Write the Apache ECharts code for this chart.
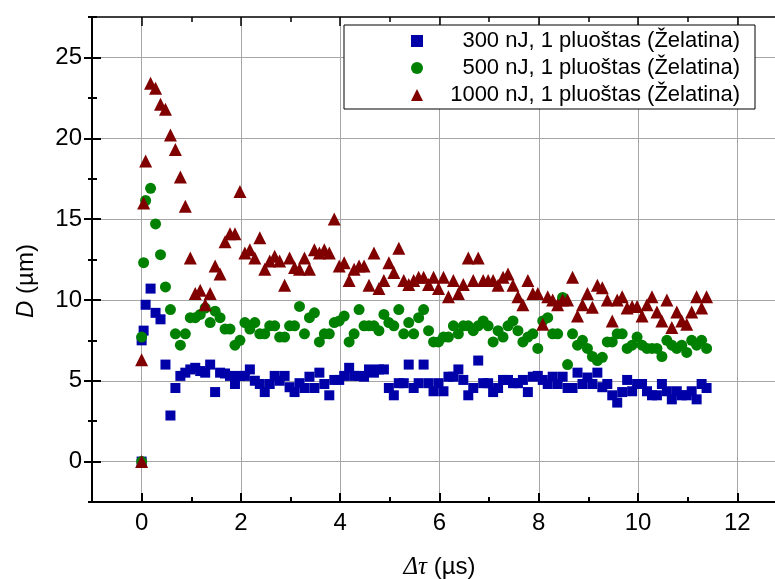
<!DOCTYPE html>
<html>
<head>
<meta charset="utf-8">
<script src="https://cdn.jsdelivr.net/npm/echarts@6/dist/echarts.min.js"></script>
<style>html,body{margin:0;padding:0;background:#fff}#c{width:775px;height:579px}</style>
</head>
<body>
<div id="c"></div>
<script>
// Delay times (µs), shared by the three series
const tau = [0, 0, 0.04,
  0.08, 0.18, 0.28, 0.38, 0.48, 0.58, 0.68, 0.78, 0.88, 0.98,
  1.08, 1.18, 1.28, 1.38, 1.48, 1.58, 1.68, 1.78, 1.88, 1.98,
  2.08, 2.18, 2.28, 2.38, 2.48, 2.58, 2.68, 2.78, 2.88, 2.98,
  3.08, 3.18, 3.28, 3.38, 3.48, 3.58, 3.68, 3.78, 3.88, 3.98,
  4.08, 4.18, 4.28, 4.38, 4.48, 4.58, 4.68, 4.78, 4.88, 4.98,
  5.08, 5.18, 5.28, 5.38, 5.48, 5.58, 5.68, 5.78, 5.88, 5.98,
  6.08, 6.18, 6.28, 6.38, 6.48, 6.58, 6.68, 6.78, 6.88, 6.98,
  7.08, 7.18, 7.28, 7.38, 7.48, 7.58, 7.68, 7.78, 7.88, 7.98,
  8.08, 8.18, 8.28, 8.38, 8.48, 8.58, 8.68, 8.78, 8.88, 8.98,
  9.08, 9.18, 9.28, 9.38, 9.48, 9.58, 9.68, 9.78, 9.88, 9.98,
  10.08, 10.18, 10.28, 10.38, 10.48, 10.58, 10.68, 10.78, 10.88, 10.98,
  11.08, 11.18, 11.28, 11.38];

// D (µm) — 300 nJ
const d300 = [0, 7.5, 8.1,
  9.7, 10.7, 9.2, 8.8, 6.0, 2.85, 4.55, 5.3, 5.5, 5.7,
  5.8, 5.6, 5.5, 6.0, 4.3, 5.5, 5.45, 5.3, 4.8, 5.3,
  5.3, 5.7, 5.0, 4.8, 4.3, 4.8, 5.3, 5.0, 5.3, 4.6,
  4.3, 4.85, 4.55, 5.25, 4.55, 5.5, 4.8, 4.1, 5.05, 5.05,
  5.3, 5.8, 5.3, 5.3, 5.25, 5.7, 5.5, 5.7, 5.7, 4.55,
  4.1, 4.85, 4.85, 6.0, 4.55, 4.85, 6.0, 4.85, 4.35, 4.85,
  4.35, 5.25, 5.25, 5.7, 5.05, 4.1, 4.55, 6.25, 4.85, 4.85,
  4.3, 4.55, 5.05, 5.05, 4.85, 4.85, 5.05, 4.3, 5.25, 5.3,
  5.05, 4.8, 5.25, 4.8, 5.25, 4.55, 4.55, 5.5, 4.8, 5.2,
  4.8, 5.5, 4.6, 4.8, 4.1, 3.65, 4.3, 5.05, 4.35, 4.8,
  4.8, 4.35, 4.1, 4.1, 4.8, 4.35, 3.85, 4.35, 4.1, 4.1,
  4.35, 3.85, 4.8, 4.55];

// D (µm) — 500 nJ
const d500 = [0, 7.7, 12.3,
  16.15, 16.9, 14.7, 12.8, 10.8, 9.4, 7.9, 7.2, 7.9, 8.9,
  8.9, 9.1, 9.5, 8.6, 9.3, 8.9, 8.2, 8.2, 7.2, 7.5,
  8.6, 8.2, 8.6, 7.9, 7.9, 8.4, 8.4, 7.7, 7.7, 8.4,
  8.4, 9.6, 7.9, 8.9, 9.2, 7.4, 7.9, 7.9, 8.6, 8.7,
  9.0, 7.4, 7.9, 9.4, 8.4, 8.4, 8.4, 8.1, 9.1, 8.6,
  8.4, 9.4, 7.9, 8.6, 7.9, 8.9, 9.4, 8.1, 7.4, 7.4,
  7.7, 7.7, 8.4, 7.9, 8.4, 8.4, 8.1, 8.4, 8.7, 8.4,
  7.4, 8.1, 7.7, 8.4, 8.7, 8.1, 7.4, 7.7, 7.9, 7.0,
  8.7, 8.9, 7.9, 7.9, 10.15, 6.0, 7.9, 7.2, 7.5, 7.0,
  6.5, 6.25, 6.45, 7.4, 7.4, 7.9, 7.9, 7.0, 7.2, 7.7,
  7.2, 7.0, 7.0, 7.0, 6.5, 7.5, 7.2, 7.0, 7.2, 6.75,
  7.5, 7.2, 7.5, 7.0];

// D (µm) — 1000 nJ
const d1000 = [0, 6.3, 16.0,
  18.6, 23.4, 23.1, 22.1, 21.8, 20.2, 19.3, 17.6, 15.8, 12.6,
  10.4, 10.6, 9.7, 10.4, 12.1, 11.6, 13.6, 14.1, 14.1, 16.7,
  12.9, 13.1, 12.6, 13.85, 11.9, 12.4, 12.7, 12.4, 10.9, 12.6,
  12.0, 11.9, 12.6, 11.9, 13.1, 12.9, 13.1, 12.9, 15.0, 12.1,
  12.3, 11.2, 11.9, 12.1, 12.1, 10.9, 12.9, 10.7, 11.2, 12.3,
  11.7, 13.2, 11.2, 10.95, 11.2, 11.4, 11.4, 10.95, 11.4, 10.7,
  11.4, 10.2, 11.2, 10.4, 10.95, 12.6, 11.2, 12.6, 11.2, 11.2,
  11.2, 10.9, 11.4, 11.6, 10.9, 10.2, 9.7, 11.2, 10.4, 10.4,
  8.5, 10.2, 10.0, 9.7, 10.0, 10.0, 11.4, 9.0, 9.7, 10.4,
  9.55, 10.9, 10.75, 10.0, 8.7, 10.0, 10.2, 9.5, 9.6, 9.6,
  9.0, 9.7, 10.2, 9.25, 8.7, 10.0, 8.3, 9.25, 8.7, 8.5,
  9.25, 10.2, 9.5, 10.2];

const seriesNames = ['300 nJ, 1 pluoštas (Želatina)', '500 nJ, 1 pluoštas (Želatina)', '1000 nJ, 1 pluoštas (Želatina)'];
const xMajorTicks = [0, 2, 4, 6, 8, 10, 12];
const yMajorTicks = [0, 5, 10, 15, 20, 25];

const FONT = '"Liberation Sans", Arial, sans-serif';
const black = '#000';
const gridColor = '#a6a6a6';
const X_MIN = -1, X_MAX = 13, Y_MIN = -2.5, Y_MAX = 27.5;

function plainX(extra) {
  return Object.assign({
    type: 'value', min: X_MIN, max: X_MAX, gridIndex: 0,
    axisLine: { show: false, onZero: false },
    axisLabel: { show: false },
    splitLine: { show: false },
    axisPointer: { show: false }
  }, extra);
}
function plainY(extra) {
  return Object.assign({
    type: 'value', min: Y_MIN, max: Y_MAX, gridIndex: 0, position: 'left',
    axisLine: { show: false, onZero: false },
    axisLabel: { show: false },
    splitLine: { show: false },
    axisPointer: { show: false }
  }, extra);
}

const chart = echarts.init(document.getElementById('c'), null, { renderer: 'canvas' });
chart.setOption({
  animation: false,
  backgroundColor: '#fff',
  grid: { left: 92, top: 17, width: 695, height: 485, outerBoundsMode: 'none', containLabel: false },
  legend: {
    orient: 'vertical', left: 344, top: 25,
    padding: [5, 15, 3, 67], itemGap: 5, itemWidth: 12, itemHeight: 12, itemTextGap: 5,
    borderColor: black, borderWidth: 1, borderRadius: 0, backgroundColor: '#fff',
    data: seriesNames,
    formatter: n => '{a|' + n + '}',
    textStyle: {
      fontSize: 22, color: black, fontFamily: FONT,
      rich: { a: { width: 312, align: 'right', fontSize: 22, lineHeight: 21.5, fontFamily: FONT, color: black } }
    }
  },
  xAxis: [
    {
      type: 'value', min: X_MIN, max: X_MAX, position: 'bottom', gridIndex: 0,
      axisLine: { show: true, onZero: false, lineStyle: { color: black, width: 2 } },
      axisTick: { show: true, inside: true, length: 9, customValues: xMajorTicks, lineStyle: { color: black, width: 2 } },
      axisLabel: { customValues: xMajorTicks, fontSize: 24, color: black, fontFamily: FONT, margin: 9 },
      splitLine: { show: true, lineStyle: { color: gridColor, width: 1 } },
      name: '{i|Δτ} (µs)', nameLocation: 'middle', nameGap: 53,
      nameTextStyle: { fontSize: 24, color: black, fontFamily: FONT,
        rich: { i: { fontStyle: 'italic', fontFamily: '"Liberation Serif", serif', fontSize: 25, color: black } } }
    },
    plainX({ position: 'bottom', interval: 1, axisTick: { show: true, inside: true, length: 5, lineStyle: { color: black, width: 2 } } }),
    plainX({ position: 'top', axisLine: { show: true, onZero: false, lineStyle: { color: black, width: 1.5 } },
      axisTick: { show: true, inside: true, length: 9, customValues: xMajorTicks, lineStyle: { color: black, width: 1.5 } } }),
    plainX({ position: 'top', interval: 1, axisTick: { show: true, inside: true, length: 5, lineStyle: { color: black, width: 1.5 } } })
  ],
  yAxis: [
    {
      type: 'value', min: Y_MIN, max: Y_MAX, position: 'left', gridIndex: 0,
      axisLine: { show: true, onZero: false, lineStyle: { color: black, width: 2 } },
      axisTick: { show: true, inside: true, length: 9, customValues: yMajorTicks, lineStyle: { color: black, width: 2 } },
      axisLabel: { customValues: yMajorTicks, fontSize: 24, color: black, fontFamily: FONT, margin: 10 },
      splitLine: { show: true, lineStyle: { color: gridColor, width: 1 } }
    },
    plainY({ interval: 2.5, axisTick: { show: true, inside: true, length: 5, lineStyle: { color: black, width: 2 } } }),
    plainY({ axisTick: { show: true, inside: false, length: 8, customValues: yMajorTicks, lineStyle: { color: black, width: 2 } } }),
    plainY({ interval: 2.5, axisTick: { show: true, inside: false, length: 4, lineStyle: { color: black, width: 2 } } })
  ],
  graphic: [{
    type: 'text', x: 26, y: 281, rotation: Math.PI / 2,
    style: {
      text: '{i|D} (µm)', fontSize: 24, fontFamily: FONT, fill: black,
      align: 'center', verticalAlign: 'middle',
      rich: { i: { fontStyle: 'italic', fontSize: 24, fontFamily: FONT, fill: black } }
    }
  }],
  series: [
    { type: 'scatter', name: seriesNames[0], xAxisIndex: 0, yAxisIndex: 0,
      data: tau.map((t, i) => [t, d300[i]]), symbol: 'rect', symbolSize: 10,
      itemStyle: { color: '#0000a8', opacity: 1 } },
    { type: 'scatter', name: seriesNames[1], xAxisIndex: 0, yAxisIndex: 0,
      data: tau.map((t, i) => [t, d500[i]]), symbol: 'circle', symbolSize: 11,
      itemStyle: { color: '#008000', opacity: 1 } },
    { type: 'scatter', name: seriesNames[2], xAxisIndex: 0, yAxisIndex: 0,
      data: tau.map((t, i) => [t, d1000[i]]), symbol: 'triangle', symbolSize: 13,
      itemStyle: { color: '#800000', opacity: 1 } }
  ]
});
</script>
</body>
</html>
